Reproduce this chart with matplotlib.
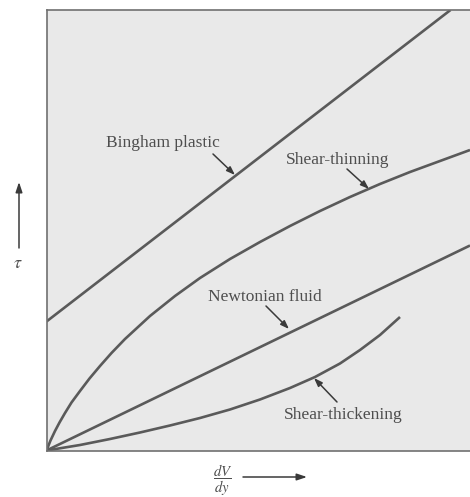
import matplotlib
matplotlib.use("Agg")
import matplotlib.pyplot as plt

plt.rcParams['font.family'] = ['Liberation Serif', 'DejaVu Serif']
plt.rcParams['mathtext.fontset'] = 'stix'

# rate of strain dV/dy (arbitrary units) and shear stress tau for each fluid type
bingham_x = [0, 404]
bingham_y = [129, 440.5]

newtonian_x = [0, 423.5]
newtonian_y = [0, 205]

thinning_x = [0, 4, 8.5, 13, 18.5, 25, 33.5, 43, 53.5, 65, 78.5, 103.5, 128.5, 153.5,
              183.5, 213.5, 243.5, 273.5, 303.5, 333.5, 363.5, 393.5, 423.5]
thinning_y = [0, 10, 19.5, 28, 37.5, 48, 59.5, 72, 84.5, 97.5, 111.5, 134.5, 154.5, 172.5,
              191.5, 208.5, 224.5, 239.5, 253.5, 266.5, 278.5, 289.5, 300.5]

thickening_x = [0, 33.5, 63.5, 93.5, 123.5, 153.5, 183.5, 213.5, 243.5, 268.5,
                293.5, 313.5, 333.5, 353.5]
thickening_y = [0, 5.5, 11.5, 18, 25, 32.5, 41, 51, 62.5, 73.5, 87, 100.5, 115.5, 133.5]

ink = '#4e4e4e'
line_col = '#5a5a5a'

fig = plt.figure(figsize=(4.7, 4.97), dpi=100)
ax = fig.add_axes([46.5 / 470, 46.5 / 497, 1 - 46.5 / 470, 440.5 / 497])
ax.set_facecolor('#e9e9e9')

for xs, ys in [(bingham_x, bingham_y), (newtonian_x, newtonian_y),
               (thinning_x, thinning_y), (thickening_x, thickening_y)]:
    ax.plot(xs, ys, color=line_col, lw=1.9, solid_capstyle='butt', solid_joinstyle='round')

ax.set_xlim(0, 423.5)
ax.set_ylim(0, 440.5)
ax.set_xticks([])
ax.set_yticks([])
for s in ['left', 'bottom', 'top']:
    ax.spines[s].set_color('#707070')
    ax.spines[s].set_linewidth(1.2)
ax.spines['right'].set_visible(False)

# labels with small arrows (pixel layout converted to data units)
def px(x, y):
    return (x - 46.5, 450.5 - y)

labels = [
    ("Bingham plastic", (163, 143), (213, 154), (235, 175)),
    ("Shear-thinning", (338, 160), (347, 169), (369, 189)),
    ("Newtonian fluid", (265, 297), (266, 306), (289, 329)),
    ("Shear-thickening", (343, 415), (337, 402), (314, 378)),
]
for txt, pos, tail, tip in labels:
    ax.text(*px(*pos), txt, ha='center', va='center', fontsize=12.5, color=ink)
    ax.annotate('', xy=px(*tip), xytext=px(*tail),
                arrowprops=dict(arrowstyle='-|>,head_length=0.5,head_width=0.18',
                                color='#3a3a3a', lw=1.1, shrinkA=0, shrinkB=0))

# axis labels
ax.annotate('', xy=px(19, 182), xytext=px(19, 248), annotation_clip=False,
            arrowprops=dict(arrowstyle='-|>,head_length=0.6,head_width=0.2',
                            color='#3a3a3a', lw=1.1, shrinkA=0, shrinkB=0))
ax.text(*px(18, 263), r'$\tau$', ha='center', va='center', fontsize=13,
        color=ink, clip_on=False)

ax.text(*px(223, 480), r'$\dfrac{dV}{dy}$', ha='center', va='center', fontsize=10.5,
        color=ink, clip_on=False)
ax.annotate('', xy=px(307, 477), xytext=px(243, 477), annotation_clip=False,
            arrowprops=dict(arrowstyle='-|>,head_length=0.6,head_width=0.2',
                            color='#3a3a3a', lw=1.1, shrinkA=0, shrinkB=0))

fig.savefig('out.png', dpi=100)
